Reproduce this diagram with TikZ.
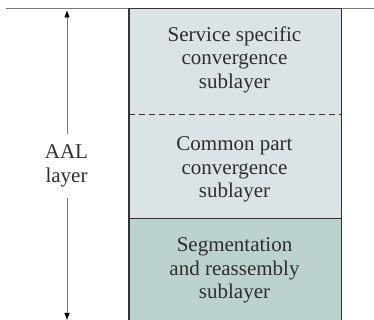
\documentclass[tikz,border=0pt]{standalone}
\usepackage{fontspec}
\setmainfont{Liberation Serif}
\usetikzlibrary{arrows.meta}
\definecolor{lightlayer}{HTML}{DCE3E6}
\definecolor{teallayer}{HTML}{BCD2CE}
\definecolor{edgegray}{HTML}{333333}
\definecolor{rulegray}{HTML}{7A7A7A}
\begin{document}
\begin{tikzpicture}[x=1pt,y=1pt,
  layerbox/.style={draw=none, minimum width=212pt, inner sep=0pt},
  layertext/.style={align=center, inner sep=0pt,
    font=\fontsize{21}{23.5}\selectfont, text=black!82},
  aallabel/.style={align=center, inner sep=0pt, minimum height=64pt,
    font=\fontsize{21}{24}\selectfont, text=black!82},
  spanarrow/.style={draw=rulegray, line width=0.9pt, -{Triangle[length=7pt,width=5pt,color=black,fill=black]}},
  border/.style={draw=edgegray, line width=1.4pt}]
\useasboundingbox (0,0) rectangle (374,320);
% layers
\node[layerbox, fill=lightlayer, minimum height=105pt] (ssc) at (235,258.5) {};
\node[layerbox, fill=lightlayer, minimum height=104pt] (cpc) at (235,154) {};
\node[layerbox, fill=teallayer, minimum height=104pt] (sar) at (235,50) {};
\node[layertext] (ssctext) at (234.5,260.5) {Service specific\\convergence\\sublayer};
\node[layertext] (cpctext) at (234.5,150.2) {Common part\\convergence\\sublayer};
\node[layertext] (sartext) at (234.5,49.2) {Segmentation\\and reassembly\\sublayer};
% dividers
\draw[border, line width=1pt, dash pattern=on 6pt off 4pt] (ssc.south west) -- (ssc.south east);
\draw[border, line width=1.2pt] (cpc.south west) -- (cpc.south east);
% top rule and box edges
\coordinate (ruleL) at (6,311);
\coordinate (ruleR) at (374,311);
\draw[draw=rulegray, line width=1pt] (ruleL) -- (ruleR);
\draw[border] (sar.south west) -- (ssc.north west) -- (ssc.north east) -- (sar.south east);
% AAL layer span
\node[aallabel] (aal) at (66.5,154) {AAL\\layer};
\coordinate (arrTop) at (67,309.5);
\coordinate (arrBot) at (67,0);
\draw[spanarrow] (aal.north -| arrTop) -- (arrTop);
\draw[spanarrow] (aal.south -| arrBot) -- (arrBot);
\end{tikzpicture}
\end{document}
